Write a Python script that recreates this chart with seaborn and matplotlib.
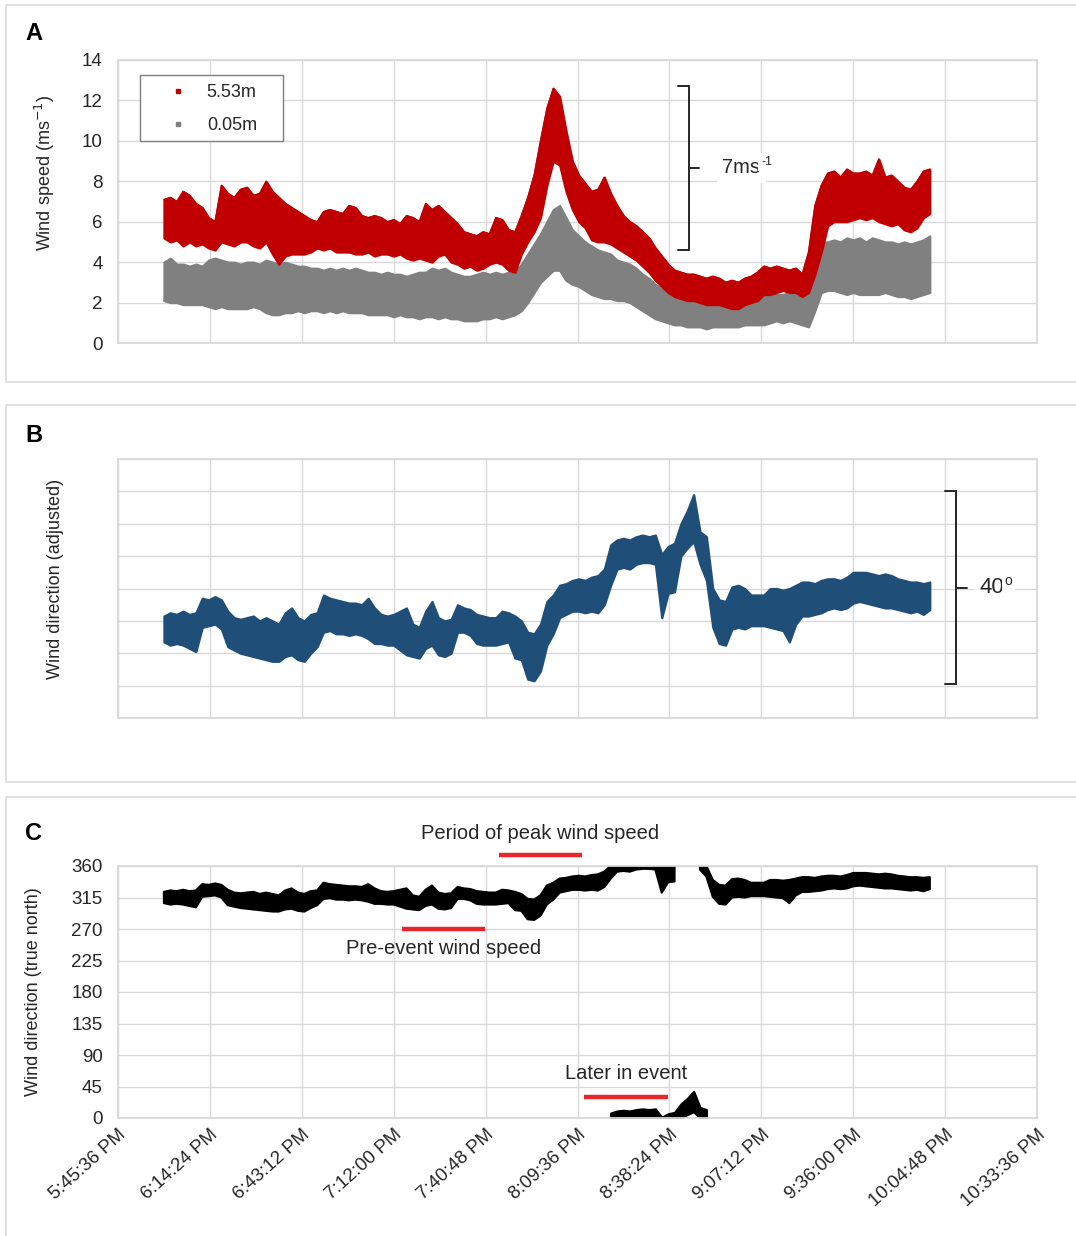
import numpy as np
import matplotlib
matplotlib.use("Agg")
import matplotlib.pyplot as plt
from matplotlib.lines import Line2D
from matplotlib.patches import Rectangle
import seaborn as sns
from datetime import datetime, timedelta

# Logger samples, minutes after 6:00 PM (2-minute envelope of the 1 Hz record)
minutes = np.arange(0, 242, 2)

# Wind speed envelope at 5.53 m (upper / lower edge of the scatter), m/s
speed_553_hi = [7.1, 7.2, 7.0, 7.5, 7.3, 6.9, 6.7, 6.2, 6.0, 7.8,
                7.4, 7.2, 7.6, 7.7, 7.3, 7.4, 8.0, 7.5, 7.2, 6.9,
                6.7, 6.5, 6.3, 6.1, 6.0, 6.5, 6.6, 6.5, 6.4, 6.8,
                6.7, 6.3, 6.2, 6.3, 6.2, 6.0, 6.1, 5.9, 6.3, 6.2,
                6.0, 6.9, 6.6, 6.8, 6.5, 6.2, 5.9, 5.5, 5.4, 5.3,
                5.5, 5.4, 6.2, 6.1, 5.6, 5.5, 6.3, 7.2, 8.3, 10.0,
                11.6, 12.6, 12.2, 10.5, 9.0, 8.3, 7.9, 7.5, 7.6, 8.2,
                7.4, 6.8, 6.3, 6.0, 5.8, 5.5, 5.2, 4.7, 4.3, 3.9,
                3.6, 3.5, 3.4, 3.4, 3.3, 3.2, 3.3, 3.2, 3.0, 3.1,
                3.0, 3.2, 3.3, 3.5, 3.8, 3.7, 3.8, 3.7, 3.6, 3.7,
                3.4, 4.5, 6.8, 7.8, 8.4, 8.5, 8.2, 8.6, 8.4, 8.4,
                8.5, 8.3, 9.1, 8.2, 8.3, 8.0, 7.7, 7.6, 8.0, 8.5,
                8.6]
speed_553_lo = [5.2, 5.0, 5.1, 4.8, 5.0, 4.8, 4.9, 4.7, 4.6, 5.0,
                4.9, 4.8, 5.0, 5.0, 4.8, 4.7, 5.0, 4.4, 3.9, 4.3,
                4.4, 4.4, 4.4, 4.5, 4.7, 4.6, 4.7, 4.5, 4.5, 4.5,
                4.4, 4.4, 4.5, 4.3, 4.4, 4.4, 4.3, 4.4, 4.2, 4.1,
                4.2, 4.1, 4.0, 4.3, 4.4, 4.0, 3.9, 3.7, 3.8, 3.6,
                3.7, 3.9, 4.0, 3.9, 3.6, 3.5, 4.4, 5.0, 5.5, 6.2,
                7.8, 9.0, 8.8, 7.5, 6.6, 6.0, 5.7, 5.1, 5.0, 5.0,
                4.9, 4.7, 4.5, 4.3, 4.1, 3.8, 3.5, 3.1, 2.8, 2.5,
                2.3, 2.2, 2.1, 2.1, 2.0, 1.9, 1.9, 1.9, 1.8, 1.7,
                1.7, 1.9, 2.0, 2.1, 2.4, 2.4, 2.5, 2.6, 2.5, 2.5,
                2.3, 2.5, 3.4, 4.5, 5.8, 6.0, 6.0, 6.0, 6.1, 6.2,
                6.1, 6.2, 6.0, 5.9, 5.8, 5.9, 5.6, 5.5, 5.7, 6.2,
                6.4]

# Wind speed envelope at 0.05 m, m/s
speed_005_hi = [4.0, 4.2, 3.9, 3.9, 3.8, 3.9, 3.8, 4.1, 4.2, 4.1,
                4.0, 4.0, 3.9, 4.0, 4.0, 3.9, 4.1, 4.0, 3.9, 4.0,
                3.9, 3.8, 3.8, 3.7, 3.7, 3.6, 3.7, 3.6, 3.7, 3.6,
                3.7, 3.6, 3.5, 3.5, 3.4, 3.5, 3.4, 3.4, 3.3, 3.4,
                3.5, 3.5, 3.7, 3.6, 3.7, 3.5, 3.4, 3.3, 3.3, 3.4,
                3.5, 3.4, 3.5, 3.4, 3.5, 3.5, 3.9, 4.4, 4.9, 5.4,
                6.0, 6.6, 6.8, 6.2, 5.6, 5.3, 5.0, 4.8, 4.6, 4.5,
                4.4, 4.1, 4.0, 3.9, 3.7, 3.4, 3.2, 2.9, 2.7, 2.5,
                2.4, 2.3, 2.3, 2.2, 2.2, 2.2, 2.1, 2.1, 2.0, 2.1,
                2.1, 2.2, 2.2, 2.2, 2.3, 2.4, 2.4, 2.4, 2.5, 2.5,
                2.5, 2.6, 4.2, 5.0, 5.0, 5.1, 5.0, 5.2, 5.1, 5.2,
                5.0, 5.2, 5.1, 5.0, 5.0, 4.9, 5.0, 4.9, 5.0, 5.1,
                5.3]
speed_005_lo = [2.1, 2.0, 2.0, 1.9, 1.9, 1.9, 1.9, 1.8, 1.7, 1.8,
                1.7, 1.7, 1.7, 1.7, 1.8, 1.7, 1.5, 1.4, 1.4, 1.5,
                1.5, 1.6, 1.5, 1.6, 1.6, 1.5, 1.6, 1.5, 1.6, 1.5,
                1.5, 1.5, 1.4, 1.4, 1.4, 1.4, 1.3, 1.4, 1.3, 1.3,
                1.2, 1.3, 1.3, 1.2, 1.3, 1.2, 1.2, 1.1, 1.1, 1.1,
                1.2, 1.2, 1.3, 1.2, 1.3, 1.4, 1.6, 2.0, 2.5, 3.0,
                3.3, 3.6, 3.6, 3.1, 2.9, 2.8, 2.6, 2.4, 2.3, 2.2,
                2.2, 2.1, 2.1, 2.0, 1.8, 1.6, 1.4, 1.2, 1.1, 1.0,
                0.9, 0.9, 0.8, 0.8, 0.8, 0.7, 0.8, 0.8, 0.8, 0.8,
                0.8, 0.9, 0.9, 0.9, 0.9, 1.0, 1.1, 1.0, 1.1, 1.0,
                0.9, 0.8, 1.6, 2.5, 2.6, 2.6, 2.5, 2.4, 2.5, 2.4,
                2.4, 2.4, 2.4, 2.5, 2.4, 2.3, 2.3, 2.2, 2.3, 2.4,
                2.5]

# Wind direction envelope, degrees from true north, unwrapped past 360
direction_hi = [323, 325, 324, 326, 324, 325, 334, 333, 335, 333,
                326, 322, 321, 322, 323, 320, 322, 320, 318, 325,
                328, 322, 320, 324, 325, 336, 334, 333, 332, 331,
                331, 330, 334, 328, 324, 323, 324, 326, 328, 318,
                316, 326, 332, 322, 320, 321, 330, 328, 327, 324,
                323, 322, 322, 326, 325, 323, 320, 313, 312, 318,
                332, 336, 342, 343, 345, 346, 345, 347, 348, 352,
                367, 370, 371, 370, 372, 373, 372, 373, 361, 366,
                368, 380, 388, 398, 375, 372, 340, 333, 332, 341,
                342, 340, 336, 336, 336, 340, 340, 339, 340, 342,
                344, 344, 343, 345, 346, 346, 345, 347, 350, 350,
                350, 349, 348, 349, 348, 346, 345, 344, 344, 343,
                344]
direction_lo = [307, 305, 306, 305, 303, 301, 316, 317, 318, 315,
                304, 302, 300, 299, 298, 297, 296, 295, 295, 298,
                299, 296, 295, 300, 304, 313, 314, 312, 312, 311,
                312, 311, 309, 306, 306, 305, 305, 302, 299, 298,
                297, 303, 305, 299, 298, 300, 313, 313, 311, 306,
                305, 305, 305, 306, 307, 297, 296, 284, 283, 289,
                305, 312, 322, 324, 326, 326, 325, 326, 325, 330,
                342, 352, 353, 352, 355, 356, 356, 355, 322, 337,
                338, 360, 365, 369, 355, 345, 316, 306, 305, 315,
                316, 315, 317, 317, 317, 316, 315, 314, 307, 318,
                323, 323, 324, 325, 327, 328, 327, 328, 331, 332,
                331, 330, 329, 328, 328, 327, 326, 325, 326, 324,
                327]

# Time axis: ticks every 28.8 min starting at 5:45:36 PM
tick_minutes = [-14.4, 14.4, 43.2, 72.0, 100.8, 129.6, 158.4, 187.2, 216.0, 244.8, 273.6]
base_time = datetime(2000, 1, 1, 18, 0, 0)
tick_labels = [(base_time + timedelta(minutes=m)).strftime("%I:%M:%S %p").lstrip("0")
               for m in tick_minutes]

speed_ticks = [0, 2, 4, 6, 8, 10, 12, 14]
adjusted_ticks = [260, 280, 300, 320, 340, 360, 380, 400, 420]
true_north_ticks = [0, 45, 90, 135, 180, 225, 270, 315, 360]

# Annotation bars on the true-north panel: (start, end, level)
pre_event_bar = (74.5, 100.5, 269.5)
peak_bar = (105.0, 131.0, 375.5)
later_bar = (131.5, 158.0, 30.0)

RED = "#C00000"
GREY = "#808080"
BLUE = "#1F4E79"
GRID = "#D9D9D9"
TEXT = "#262626"
BAR_RED = "#E8262B"

sns.set_theme(style="whitegrid")
plt.rcParams["font.family"] = ["Liberation Sans", "DejaVu Sans"]
plt.rcParams["mathtext.fontset"] = "custom"
plt.rcParams["mathtext.rm"] = "Liberation Sans"

W, H = 1076, 1236
fig = plt.figure(figsize=(W / 100, H / 100), dpi=100)
fig.patch.set_facecolor("white")

# Panel frames
for top, bottom in [(5, 382), (405, 782), (797, 1240)]:
    fig.add_artist(Rectangle((6 / W, 1 - bottom / H), (1090 - 6) / W, (bottom - top) / H,
                             transform=fig.transFigure, fill=False, ec="#E0E0E0", lw=1.4))

left, width = 118 / W, (1037 - 118) / W
axA = fig.add_axes([left, 1 - 343 / H, width, (343 - 60) / H])
axB = fig.add_axes([left, 1 - 718 / H, width, (718 - 459) / H])
axC = fig.add_axes([left, 1 - 1118 / H, width, (1118 - 866) / H])


def style_axes(ax):
    ax.set_facecolor("white")
    ax.grid(True, color=GRID, lw=1.0)
    for sp in ax.spines.values():
        sp.set_color(GRID)
        sp.set_linewidth(1.3)
    ax.set_xlim(tick_minutes[0], tick_minutes[-1])
    ax.set_xticks(tick_minutes)
    ax.tick_params(length=0, labelsize=13.5, colors=TEXT, pad=11)


def band(ax, lo, hi, color, where=None):
    ax.fill_between(minutes, lo, hi, where=where, color=color, lw=1.6, ec=color)


def superscript_label(ax, x, y, base, sup, size):
    """Draw text with a small raised suffix (e.g. ms and -1)."""
    t = ax.text(x, y, base, fontsize=size, color=TEXT, ha="left", va="center",
                bbox=dict(facecolor="white", edgecolor="none", pad=4))
    ax.annotate(sup, xy=(1, 0.82), xycoords=t, xytext=(0.5, 0), textcoords="offset points",
                fontsize=size * 0.62, color=TEXT, ha="left", va="center",
                bbox=dict(facecolor="white", edgecolor="none", pad=2))
    return t


for ax in (axA, axB, axC):
    style_axes(ax)

# ---- A: wind speed ----
band(axA, speed_005_lo, speed_005_hi, GREY)
sns.lineplot(x=minutes, y=speed_005_lo, ax=axA, color=GREY, lw=1.0, estimator=None)
band(axA, speed_553_lo, speed_553_hi, RED)
sns.lineplot(x=minutes, y=speed_553_hi, ax=axA, color=RED, lw=1.0, estimator=None)
axA.set_ylim(0, 14)
axA.set_yticks(speed_ticks)
axA.set_xticklabels([])
axA.set_ylabel("Wind speed (ms$^{\\mathsf{-1}}$)", fontsize=13, color=TEXT)
axA.yaxis.set_label_coords(-0.066, 0.60)

# Legend: frame drawn separately to match the boxed key
key_box = Rectangle((140 / W, 1 - 141 / H), (283 - 140) / W, (141 - 75) / H,
                    transform=fig.transFigure, fill=True, fc="white", ec="#7F7F7F", lw=1.0,
                    zorder=5)
fig.add_artist(key_box)
handles = [Line2D([], [], ls="", marker="s", ms=3.5, color=RED),
           Line2D([], [], ls="", marker="s", ms=3.5, color=GREY)]
leg = fig.legend(handles, ["5.53m", "0.05m"], loc="upper left",
                 bbox_to_anchor=(140 / W, 1 - 75 / H), borderaxespad=0, frameon=False,
                 fontsize=13, handlelength=3.2, handletextpad=0.0, labelspacing=0.9,
                 borderpad=0.5)
leg.set_zorder(6)
for t in leg.get_texts():
    t.set_color(TEXT)

# 7 m/s bracket
bx, bl, br = 164.6, 161.0, 167.8
axA.plot([bl, bx, bx, bl], [12.73, 12.73, 4.6, 4.6], color="#262626", lw=1.4,
         solid_joinstyle="miter", clip_on=False)
axA.plot([bx, br], [8.66, 8.66], color="#262626", lw=1.4)
superscript_label(axA, 175.0, 8.66, "7ms", "-1", 14.5)

# ---- B: adjusted wind direction ----
band(axB, direction_lo, direction_hi, BLUE)
axB.set_ylim(adjusted_ticks[0], adjusted_ticks[-1])
axB.set_yticks(adjusted_ticks)
axB.set_yticklabels([])
axB.set_xticklabels([])
axB.set_ylabel("Wind direction (adjusted)", fontsize=13, color=TEXT)
axB.yaxis.set_label_coords(-0.059, 0.537)
cx, cl, cr = 248.2, 244.8, 251.6
axB.plot([cl, cx, cx, cl], [400, 400, 281, 281], color="#262626", lw=1.4,
         solid_joinstyle="miter", clip_on=False)
axB.plot([cx, cr], [340.5, 340.5], color="#262626", lw=1.4, clip_on=False)
superscript_label(axB, 255.5, 340.5, "40", "o", 16)

# ---- C: true-north wind direction (wrapped at 360) ----
lo = np.array(direction_lo, dtype=float)
hi = np.array(direction_hi, dtype=float)
band(axC, np.minimum(lo, 360), np.minimum(hi, 360), "black", where=lo < 360)
band(axC, np.clip(lo - 360, 0, None), np.clip(hi - 360, 0, None), "black", where=hi > 360)
axC.set_ylim(0, 360)
axC.set_yticks(true_north_ticks)
axC.set_xticklabels(tick_labels, rotation=42, ha="right", va="top", rotation_mode="anchor")
axC.tick_params(axis="x", pad=6)
axC.set_ylabel("Wind direction (true north)", fontsize=13, color=TEXT)
axC.yaxis.set_label_coords(-0.083, 0.5)

for (x0, x1, y), label, ty in [(pre_event_bar, "Pre-event wind speed", 242.0),
                               (peak_bar, "Period of peak wind speed", 406.0),
                               (later_bar, "Later in event", 63.0)]:
    axC.plot([x0, x1], [y, y], color=BAR_RED, lw=3.2, solid_capstyle="butt", clip_on=False)
    axC.text((x0 + x1) / 2, ty, label, fontsize=14.5, color=TEXT, ha="center", va="center",
             clip_on=False)

# Panel letters
for letter, y in [("A", 33), ("B", 435), ("C", 833)]:
    fig.text(34 / W, 1 - y / H, letter, fontsize=17, fontweight="bold", color="black",
             ha="center", va="center")

fig.savefig("out.png", dpi=100, facecolor="white")
